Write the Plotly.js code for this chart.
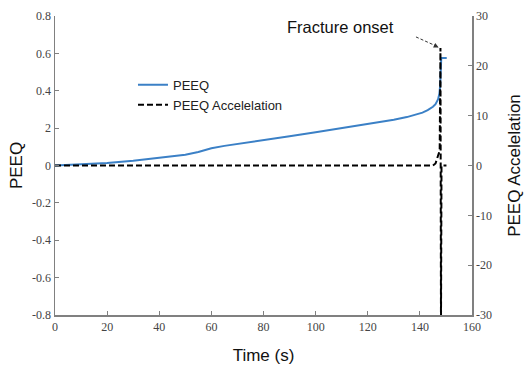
<!DOCTYPE html>
<html>
<head>
<meta charset="utf-8">
<script src="https://cdn.plot.ly/plotly-3.0.1.min.js"></script>
<style>html,body{margin:0;padding:0;background:#fff;}#chart{width:527px;height:367px;}</style>
</head>
<body>
<div id="chart"></div>
<script>
// PEEQ (left axis)
const peeqTime  = [0, 10, 20, 30, 40, 50, 55, 60, 65, 70, 80, 90, 100, 110, 120, 125, 130, 135, 138, 141, 143, 145, 146, 147, 147.5, 147.8, 148.2, 150.3];
const peeqValue = [0, 0.005, 0.013, 0.025, 0.04, 0.058, 0.072, 0.092, 0.105, 0.116, 0.137, 0.157, 0.178, 0.199, 0.221, 0.232, 0.245, 0.259, 0.269, 0.283, 0.296, 0.314, 0.328, 0.355, 0.385, 0.43, 0.575, 0.575];
// PEEQ acceleration (right axis)
const accelTime  = [0, 20, 40, 60, 80, 100, 120, 140, 145, 146, 146.8, 147.6, 147.9, 148.1, 148.3, 150.2];
const accelValue = [0, 0, 0, 0, 0, 0, 0, 0, 0, 0.4, 1.6, 3, 23.6, -32, 0, 0];
// tick labels
const leftTickVals = [-0.8, -0.6, -0.4, -0.2, 0, 0.2, 0.4, 0.6, 0.8];
const leftTickText = ["-0.8", "-0.6", "-0.4", "-0.2", "0", "2", "0.4", "0.6", "0.8"];
const rightTickVals = [-30, -20, -10, 0, 10, 20, 30];
const rightTickText = ["-30", "-20", "-10", "0", "10", "20", "30"];
const xTickVals = [0, 20, 40, 60, 80, 100, 120, 140, 160];

const tickFont = {family: "Times New Roman, Liberation Serif, serif", size: 12, color: "#444"};
const titleFont = {family: "Liberation Sans", size: 17, color: "#111"};

const traces = [
  {x: peeqTime, y: peeqValue, type: "scatter", mode: "lines", name: "PEEQ",
   line: {color: "#3b80c6", width: 2}, yaxis: "y"},
  {x: accelTime, y: accelValue, type: "scatter", mode: "lines", name: "PEEQ Accelelation",
   line: {color: "#000", width: 2, dash: "6px,3px"}, yaxis: "y2"}
];

function axisBase() {
  return {
    showgrid: false, zeroline: false, showline: true, linecolor: "#808080", linewidth: 1.5,
    ticks: "inside", ticklen: 4, tickcolor: "#808080", tickwidth: 1,
    tickfont: {family: tickFont.family, size: tickFont.size, color: tickFont.color}
  };
}

const layout = {
  width: 527, height: 367,
  margin: {l: 55, r: 55, t: 16, b: 52},
  paper_bgcolor: "#fff", plot_bgcolor: "#fff",
  showlegend: true,
  legend: {x: 0.187, y: 0.82, xanchor: "left", yanchor: "top", bgcolor: "rgba(0,0,0,0)",
           font: {family: "Liberation Sans", size: 13, color: "#222"},
           tracegroupgap: 0},
  xaxis: Object.assign(axisBase(), {range: [0, 160], tickvals: xTickVals,
    title: {text: "Time (s)", font: titleFont, standoff: 16}}),
  yaxis: Object.assign(axisBase(), {range: [-0.8, 0.8], tickvals: leftTickVals, ticktext: leftTickText,
    title: {text: "PEEQ", font: titleFont, standoff: 5}}),
  yaxis2: Object.assign(axisBase(), {range: [-30, 30], tickvals: rightTickVals, ticktext: rightTickText,
    overlaying: "y", side: "right",
    title: {text: "PEEQ Accelelation", font: titleFont, standoff: 17}}),
  shapes: [
    {type: "line", xref: "x", yref: "y2", x0: 138.5, y0: 25.8, x1: 146.6, y1: 23.9,
     line: {color: "#333", width: 1, dash: "3px,2px"}}
  ],
  annotations: [
    {x: 109.5, y: 27.8, xref: "x", yref: "y2", text: "Fracture onset", showarrow: false,
     font: {family: "Liberation Sans", size: 16.5, color: "#111"}},
    {x: 147.2, y: 23.7, xref: "x", yref: "y2", text: "", showarrow: true, arrowhead: 2,
     arrowsize: 1, arrowwidth: 1, arrowcolor: "#333", ax: -6, ay: -3}
  ]
};

Plotly.newPlot("chart", traces, layout, {displayModeBar: false, staticPlot: true});
</script>
</body>
</html>
